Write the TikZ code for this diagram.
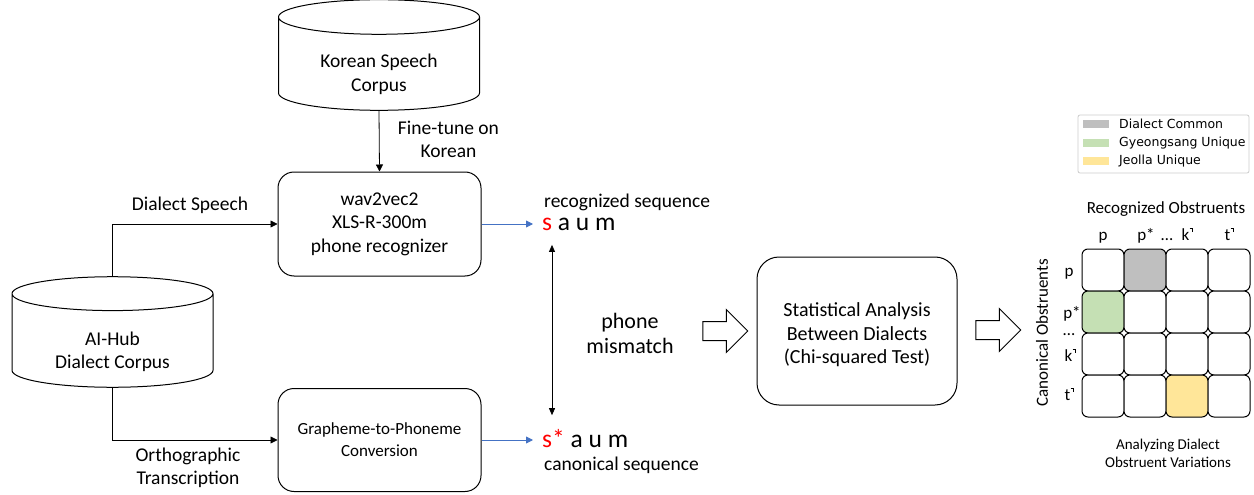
\documentclass[tikz,border=0pt]{standalone}
\usepackage{fontspec}
\setmainfont{Carlito}
\newfontfamily\legendfont{DejaVu Sans}
\usetikzlibrary{shapes.geometric,shapes.arrows,arrows.meta}

\definecolor{seqblue}{RGB}{68,114,196}
\definecolor{commongray}{RGB}{191,191,191}
\definecolor{gyeongsanggreen}{RGB}{197,224,180}
\definecolor{jeollayellow}{RGB}{255,230,153}
\definecolor{legendedge}{RGB}{204,204,204}

\newcommand\unrl[1]{#1\tikz[baseline=0pt,x=1pt,y=1pt]\draw[line width=0.6pt] (0.2,11.5)--(2.8,11.5)--(2.8,8.5);}
\newcommand\toppad[1]{\rule{0pt}{#1}}

\tikzset{
  txt/.style={font=\fontsize{19.5}{23.5}\selectfont},
  corpus/.style={txt, draw, line width=1pt, cylinder, shape border rotate=90, aspect=0.29, inner sep=1pt,
    minimum width=201pt, minimum height=98pt, align=center, anchor=shape center},
  procbox/.style={txt, draw, line width=1pt, rounded corners=16pt, minimum width=203pt, align=center},
  flow/.style={line width=0.8pt, -{Triangle[length=7pt,width=7pt]}},
  seqarrow/.style={line width=0.9pt, draw=seqblue, -{Triangle[length=7pt,width=7pt]}, shorten >=9pt},
  dblarrow/.style={line width=0.8pt, {Triangle[length=7pt,width=6pt]}-{Triangle[length=7pt,width=6pt]}},
  seqtxt/.style={font=\fontsize{25.5}{30}\selectfont, inner sep=0pt, anchor=base west},
  hollow/.style={single arrow, draw, line width=1pt, minimum height=45pt, inner sep=9pt,
    single arrow head extend=12pt},
  cell/.style={draw, line width=1pt, rounded corners=6pt, minimum size=42pt, inner sep=0pt},
  obs/.style={font=\fontsize{17}{20}\selectfont},
  legpatch/.style={minimum width=26pt, minimum height=8pt, inner sep=0pt},
  legtxt/.style={font=\legendfont\fontsize{12.5}{15}\selectfont, anchor=west, inner sep=0pt},
}

\begin{document}
\begin{tikzpicture}[x=1pt,y=-1pt]
\useasboundingbox (0,0) rectangle (1254,495);

\node[corpus] (korcorp) at (379,55) {\toppad{32pt}Korean Speech\\Corpus};
\node[procbox, minimum height=104pt] (w2v) at (379.5,224) {wav2vec2\\XLS-R-300m\\phone recognizer};
\node[corpus] (aihub) at (112.5,332) {\toppad{33pt}AI-Hub\\Dialect Corpus};
\node[procbox, minimum height=103pt, font=\fontsize{17}{22}\selectfont] (g2p) at (379.5,440) {Grapheme-to-Phoneme\\Conversion};

\draw[flow] (korcorp.bottom) -- (w2v.north) node[midway, right=15pt, yshift=2pt, txt, align=center] {Fine-tune on\\Korean};
\draw[flow] (aihub.top) |- (w2v.west) node[pos=0.75, above=7pt, xshift=-5pt, txt] {Dialect Speech};
\draw[flow] (aihub.bottom) |- (g2p.west) node[pos=0.75, below=4pt, xshift=-7pt, txt, align=center] {Orthographic\\Transcription};

\node[seqtxt] (recseq) at (542,230.5) {\textcolor{red}{s} a u m};
\node[seqtxt] (canseq) at (542,447.5) {\textcolor{red}{s*} a u m};
\node[txt, inner sep=0pt, anchor=base west] (reclab) at (544,207.5) {recognized sequence};
\node[txt, inner sep=0pt, anchor=base west] (canlab) at (544,470) {canonical sequence};

\draw[seqarrow] (w2v.east) -- (w2v.east -| recseq.west);
\draw[seqarrow] (g2p.east) -- (g2p.east -| canseq.west);
\draw[dblarrow] ([xshift=10pt,yshift=-14pt]recseq.south west) -- ([xshift=10pt,yshift=14pt]canseq.north west);

\node[font=\fontsize{22}{25}\selectfont, align=center] (mismatch) at (630,333) {phone\\mismatch};
\node[hollow] (arrA) at (720.5,331) {};
\node[procbox, font=\fontsize{20}{23.5}\selectfont, minimum width=200pt, minimum height=148pt, rounded corners=22pt] (stat) at (857,331)
  {\toppad{22pt}Statistical Analysis\\Between Dialects\\(Chi-squared Test)};
\node[hollow] (arrB) at (993.5,330) {};

\node[draw=legendedge, line width=0.8pt, rounded corners=2pt, minimum width=171pt, minimum height=58pt] (legend) at (1163.5,144) {};
\node[legpatch, fill=commongray] (legc) at (1096,124) {};
\node[legpatch, fill=gyeongsanggreen] (legg) at (1096,143) {};
\node[legpatch, fill=jeollayellow] (legj) at (1096,161) {};
\node[legtxt] (legctxt) at (1119,124) {Dialect Common};
\node[legtxt] (leggtxt) at (1119,143) {Gyeongsang Unique};
\node[legtxt] (legjtxt) at (1119,161) {Jeolla Unique};

\node[obs] (rectitle) at (1166,209) {Recognized Obstruents};
\node[obs, rotate=90] (cantitle) at (1042,333) {Canonical Obstruents};

\foreach \r in {1,...,4}
{
    \foreach \c in {1,...,4}
    {
        \def\cellfill{white}
        \ifnum\r\c=12 \def\cellfill{commongray}\fi
        \ifnum\r\c=21 \def\cellfill{gyeongsanggreen}\fi
        \ifnum\r\c=43 \def\cellfill{jeollayellow}\fi
        \node[cell, fill=\cellfill] (m\r\c) at ({1061+42*\c},{228+42*\r}) {};
    }
}

\node[obs, anchor=base] (colp) at (1103,240) {p};
\node[obs, anchor=base] (colpp) at (1146,240) {p*};
\node[obs, anchor=base] (coldots) at (1167,240) {\ldots};
\node[obs, anchor=base] (colk) at (1187,240) {\unrl{k}};
\node[obs, anchor=base] (colt) at (1229,240) {\unrl{t}};

\node[obs, anchor=base] (rowp) at (1069,276) {p};
\node[obs, anchor=base] (rowpp) at (1072,318) {p*};
\node[obs, anchor=base] (rowdots) at (1069,335) {\ldots};
\node[obs, anchor=base] (rowk) at (1070,361) {\unrl{k}};
\node[obs, anchor=base] (rowt) at (1069,400) {\unrl{t}};

\node[font=\fontsize{15}{18}\selectfont, align=center] (analysis) at (1168,453) {Analyzing Dialect\\Obstruent Variations};

\end{tikzpicture}
\end{document}
